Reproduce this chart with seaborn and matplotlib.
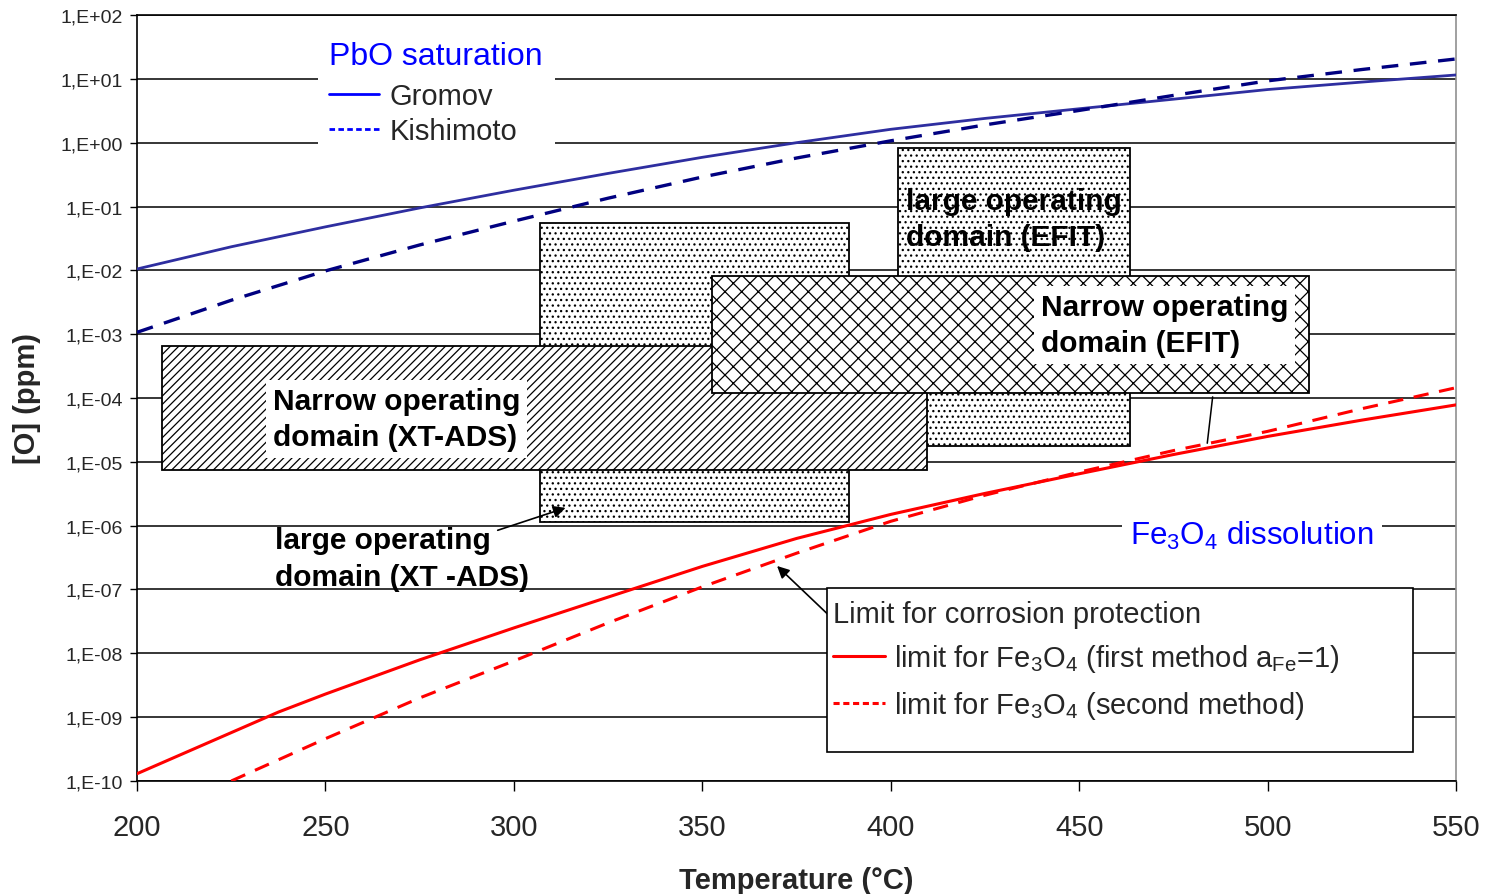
import matplotlib
matplotlib.use("Agg")
import matplotlib.pyplot as plt
import seaborn as sns
from matplotlib.lines import Line2D
from matplotlib.patches import Rectangle

sns.set_theme(style="white")
plt.rcParams["font.family"] = ["Liberation Sans", "DejaVu Sans"]
plt.rcParams["mathtext.fontset"] = "custom"
plt.rcParams["mathtext.rm"] = "Liberation Sans"
plt.rcParams["mathtext.it"] = "Liberation Sans:italic"
plt.rcParams["mathtext.bf"] = "Liberation Sans:bold"
plt.rcParams["hatch.linewidth"] = 0.9
plt.rcParams["hatch.color"] = "black"

# Temperature grid (°C) and oxygen concentration curves (ppm)
temp = [200, 225, 250, 275, 300, 325, 350, 375, 400, 425, 450, 475, 500, 525, 550]
pbo_gromov = [0.0105, 0.0234, 0.048, 0.095, 0.18, 0.33, 0.59, 1.0, 1.62, 2.4,
              3.4, 4.8, 6.8, 8.9, 11.5]
pbo_kishimoto = [0.00107, 0.0034, 0.0098, 0.025, 0.059, 0.135, 0.29, 0.575, 1.07,
                 1.9, 3.2, 5.5, 9.3, 14.0, 20.5]
temp_first = [200, 237.5, 250, 275, 300, 325, 350, 375, 400, 425, 450, 475, 500, 525, 550]
fe3o4_first = [1.3e-10, 1.2e-9, 2.3e-9, 7.9e-9, 2.5e-8, 7.6e-8, 2.3e-7, 6.3e-7,
               1.5e-6, 3.2e-6, 6.5e-6, 1.3e-5, 2.5e-5, 4.5e-5, 7.8e-5]
temp_second = [225, 250, 275, 300, 325, 350, 375, 400, 425, 450, 475, 500, 525, 550]
fe3o4_second = [1.0e-10, 4.6e-10, 2.0e-9, 7.6e-9, 3.0e-8, 1.1e-7, 3.7e-7, 1.17e-6,
                3.0e-6, 6.9e-6, 1.5e-5, 3.0e-5, 6.8e-5, 1.45e-4]

# Operating domains: temperature range and oxygen range
domain_names = ["large XT-ADS", "large EFIT", "narrow XT-ADS", "narrow EFIT"]
domain_t_min = [307, 402, 206.5, 352.5]
domain_t_max = [389, 463.5, 409.5, 511]
domain_o_min = [1.15e-6, 1.8e-5, 7.4e-6, 1.2e-4]
domain_o_max = [0.055, 0.82, 6.5e-4, 8.1e-3]
domain_hatch = ["...", "...", "////", "xx"]

yticks = [1e-10, 1e-9, 1e-8, 1e-7, 1e-6, 1e-5, 1e-4, 1e-3, 1e-2, 1e-1, 1e0, 1e1, 1e2]
ytick_labels = ["1,E-10", "1,E-09", "1,E-08", "1,E-07", "1,E-06", "1,E-05", "1,E-04",
                "1,E-03", "1,E-02", "1,E-01", "1,E+00", "1,E+01", "1,E+02"]
xticks = [200, 250, 300, 350, 400, 450, 500, 550]

fig = plt.figure(figsize=(14.85, 8.95), dpi=100)
ax = fig.add_axes([0.0923, 0.1263, 0.8882, 0.8558])
ax.set_yscale("log")
ax.set_xlim(200, 550)
ax.set_ylim(1e-10, 1e2)

# Domain boxes
for t0, t1, o0, o1, h in zip(domain_t_min, domain_t_max, domain_o_min, domain_o_max, domain_hatch):
    ax.bar(t0, o1 - o0, width=t1 - t0, bottom=o0, align="edge", color="white",
           edgecolor="black", linewidth=1.3, hatch=h, zorder=2)

# Curves
sns.lineplot(x=temp, y=pbo_gromov, ax=ax, color="#2e2ea0", lw=2.0, zorder=4)
sns.lineplot(x=temp, y=pbo_kishimoto, ax=ax, color="#000080", lw=2.4,
             ls=(0, (5, 3.5)), zorder=4)
sns.lineplot(x=temp_first, y=fe3o4_first, ax=ax, color="#ff0000", lw=2.2, zorder=4)
sns.lineplot(x=temp_second, y=fe3o4_second, ax=ax, color="#ff0000", lw=2.2,
             ls=(0, (5, 3.5)), zorder=4)

# Axes styling
ax.set_yticks(yticks)
ax.set_yticklabels(ytick_labels)
ax.minorticks_off()
ax.set_xticks(xticks)
ax.tick_params(axis="y", which="major", direction="out", length=5, width=1,
               color="black", labelsize=14, pad=5, left=True)
ax.tick_params(axis="x", which="major", direction="out", length=7, width=1,
               color="black", labelsize=21, pad=16, bottom=True)
ax.yaxis.grid(True, color="black", lw=1.1)
ax.set_axisbelow(True)
for side in ["left", "bottom", "top"]:
    ax.spines[side].set_color("black")
    ax.spines[side].set_linewidth(1.2)
ax.spines["right"].set_color("#909090")
ax.spines["right"].set_linewidth(1.2)

ax.set_xlabel("Temperature (°C)", fontsize=21, fontweight="bold", labelpad=18)
ax.set_ylabel("[O] (ppm)", fontsize=21, fontweight="bold", labelpad=14)

# Domain labels
bold = dict(fontsize=21.5, fontweight="bold", color="black", linespacing=1.38, zorder=6)
ax.text(404.0, 0.0637, "large operating\ndomain (EFIT)", ha="left", va="center", **bold)
ax.text(439.9, 1.39e-3, "Narrow operating\ndomain (EFIT)", ha="left", va="center",
        bbox=dict(facecolor="white", edgecolor="none", pad=5), **bold)
ax.text(236.1, 4.69e-5, "Narrow operating\ndomain (XT-ADS)", ha="left", va="center",
        bbox=dict(facecolor="white", edgecolor="none", pad=5), **bold)
ax.text(236.6, 3.05e-7, "large operating\ndomain (XT -ADS)", ha="left", va="center", **bold)

ax.annotate("", xy=(314.4, 1.96e-6), xytext=(295.0, 8.2e-7),
            arrowprops=dict(arrowstyle="-|>", color="black", lw=1.2, mutation_scale=18),
            zorder=6)
ax.annotate("", xy=(369.3, 2.5e-7), xytext=(386.0, 2.88e-8),
            arrowprops=dict(arrowstyle="-|>", color="black", lw=1.2, mutation_scale=18),
            zorder=6)
ax.annotate("", xy=(483.9, 1.77e-5), xytext=(485.5, 1.15e-4),
            arrowprops=dict(arrowstyle="-", color="black", lw=1.1), zorder=6)

ax.text(495.8, 7.1e-7, r"Fe$_3$O$_4$ dissolution", ha="center", va="center",
        fontsize=22.5, color="#0000ff", zorder=6,
        bbox=dict(facecolor="white", edgecolor="none", pad=6))

# PbO saturation legend
pbo_handles = [Line2D([], [], color="#0000ff", lw=2.0),
               Line2D([], [], color="#0000ff", lw=2.0, ls=(0, (2, 1.2)))]
leg1 = ax.legend(pbo_handles, ["Gromov", "Kishimoto"], title="PbO saturation",
                 loc="upper left", bbox_to_anchor=(0.137, 0.9817), fontsize=21,
                 title_fontsize=23, alignment="left", frameon=True, fancybox=False,
                 facecolor="white", edgecolor="none", framealpha=1, handlelength=1.7,
                 handletextpad=0.35, labelspacing=0.25, borderpad=0.4, borderaxespad=0)
leg1.get_title().set_color("#0000ff")
leg1._legend_box.sep = 8
leg1.set_zorder(7)
ax.add_artist(leg1)

# Corrosion protection legend
ax.add_patch(Rectangle((0.5231, 0.0379), 0.4443, 0.2141, transform=ax.transAxes,
                       facecolor="white", edgecolor="black", lw=1.2, zorder=6))
fe_handles = [Line2D([], [], color="#ff0000", lw=2.2),
              Line2D([], [], color="#ff0000", lw=2.2, ls=(0, (2, 1.2)))]
leg2 = ax.legend(fe_handles,
                 [r"limit for Fe$_3$O$_4$ (first method a$_{\mathrm{Fe}}$=1)",
                  r"limit for Fe$_3$O$_4$ (second method)"],
                 title="Limit for corrosion protection", loc="upper left",
                 bbox_to_anchor=(0.5231, 0.244), fontsize=21, title_fontsize=21,
                 alignment="left", frameon=False, handlelength=1.8, handletextpad=0.3,
                 labelspacing=0.5, borderpad=0.2, borderaxespad=0)
leg2.set_zorder(7)

fig.savefig("out.png", dpi=100)
